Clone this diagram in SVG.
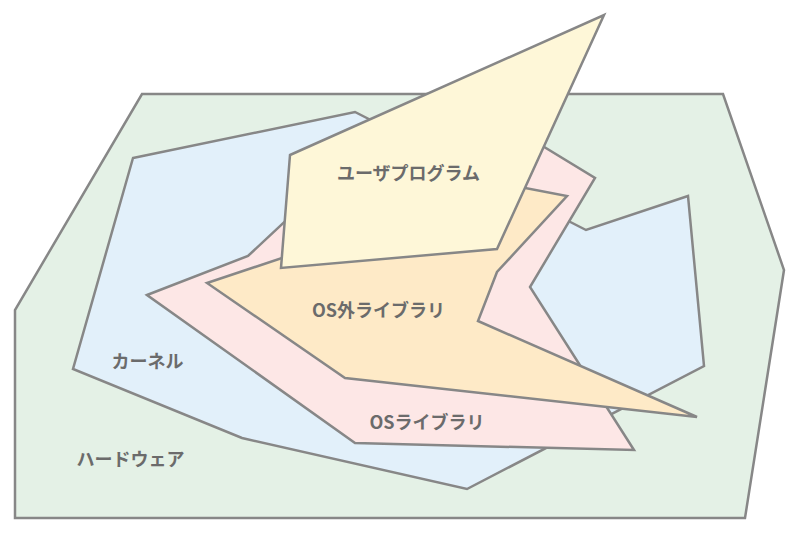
<svg xmlns="http://www.w3.org/2000/svg" width="800" height="534" viewBox="0 0 800 534">
<style>
.shape{stroke:#878787;stroke-width:2.5;stroke-linejoin:miter}
.lbl{font-family:"Noto Sans CJK JP","Noto Sans",sans-serif;font-weight:bold;font-size:18px;fill:#6b6b6b;text-anchor:middle}
</style>
<rect width="800" height="534" fill="#ffffff"/>
<g id="hardware">
<polygon class="shape" fill="#e4f1e6" points="142,94 723,94 784,270 745,518 15,518 15,310"/>
<text class="lbl" x="130.5" y="465.5">ハードウェア</text>
</g>
<g id="kernel">
<polygon class="shape" fill="#e2f0fa" points="133,158 355,112 586,230 688,196 704,366 467,489 242,438 73,369"/>
<text class="lbl" x="147.5" y="367.5">カーネル</text>
</g>
<g id="os-library">
<polygon class="shape" fill="#fde7e6" points="147,295 248,256 340,170 536,142 595,178 530,287 634,450 355,443"/>
<text class="lbl" x="427" y="428.5">OSライブラリ</text>
</g>
<g id="external-library">
<polygon class="shape" fill="#feeac7" points="207,283 330,242 515,186 567,196 497,272 478,321 697,417 345,378"/>
<text class="lbl" x="378.5" y="316.5">OS外ライブラリ</text>
</g>
<g id="user-program">
<polygon class="shape" fill="#fef7d8" points="290,155 604,15 497,249 281,268"/>
<text class="lbl" x="408.5" y="179.5">ユーザプログラム</text>
</g>
<g id="connectors"></g>
</svg>
